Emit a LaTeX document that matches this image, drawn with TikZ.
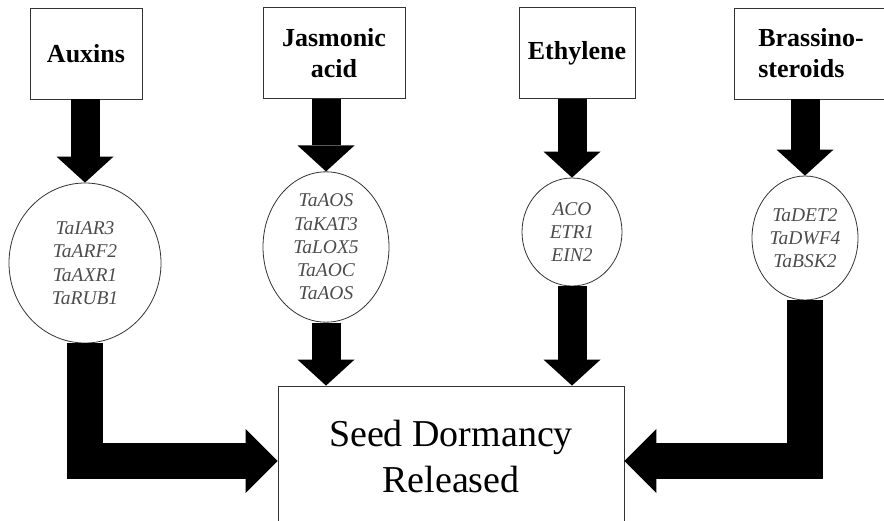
\documentclass[tikz,border=0pt]{standalone}
\usepackage{fontspec}
\setmainfont{Liberation Serif}
\usetikzlibrary{arrows.meta,shapes.geometric}

\begin{document}
\begin{tikzpicture}[
    x=1pt, y=-1pt, % pixel-like coordinates, y grows downwards
    line join=miter,
    hormone/.style={draw=black!80, line width=0.8pt, minimum height=91pt, inner sep=0pt,
        align=center, font=\fontsize{26}{31}\selectfont\bfseries},
    genes/.style={draw=black!80, line width=0.8pt, ellipse, inner sep=0pt,
        align=center, text=black!70, font=\fontsize{19.5}{23.3}\selectfont\itshape},
    outcome/.style={draw=black!80, line width=0.8pt, minimum width=346pt, minimum height=150pt,
        align=center, font=\fontsize{38}{46}\selectfont},
    block/.style={line width=29pt, -{Triangle[width=57pt, length=26pt, line width=0pt]}},
    bend block/.style={line width=36pt, -{Triangle[width=64pt, length=32pt, line width=0pt]}}
]

% --- 1. FRAME ---
\useasboundingbox (0,0) rectangle (884,520);

% --- 2. HORMONES ---
\node[hormone, minimum width=112pt] (auxins) at (86,53.5) {Auxins};
\node[hormone, minimum width=142pt] (jasmonic) at (334,53) {Jasmonic\\acid};
\node[hormone, minimum width=116pt] (ethylene) at (577,53) {Ethylene};
\node[hormone, minimum width=154pt, align=left] (brassino) at (811,53.5) {Brassino-\\steroids};

% --- 3. GENES ---
\node[genes, minimum width=152pt, minimum height=160pt] (auxgenes) at (85,263)
    {TaIAR3\\TaARF2\\TaAXR1\\TaRUB1};
\node[genes, minimum width=126pt, minimum height=138pt] (jagenes) at (326,247)
    {TaAOS\\TaKAT3\\TaLOX5\\TaAOC\\TaAOS};
\node[genes, minimum width=100pt, minimum height=108pt] (ethgenes) at (572,232)
    {ACO\\ETR1\\EIN2};
\node[genes, minimum width=106pt, minimum height=124pt] (brgenes) at (805,238)
    {TaDET2\\TaDWF4\\TaBSK2};

% --- 4. OUTCOME ---
% last empty line lifts the text a little inside the box
\node[outcome] (dormancy) at (451,461) {Seed Dormancy\\Released\\[-36pt]\mbox{}};

% --- 5. ARROWS ---
% Hormone -> genes
\draw[block] (auxgenes.north |- auxins.south) -- (auxgenes.north);
\draw[block] (jagenes.north |- jasmonic.south) -- (jagenes.north);
\draw[block] (ethgenes.north |- ethylene.south) -- (ethgenes.north);
\draw[block] (brgenes.north |- brassino.south) -- (brgenes.north);

% Genes -> dormancy
\draw[block] (jagenes.south) -- (jagenes.south |- dormancy.north);
\draw[block] (ethgenes.south) -- (ethgenes.south |- dormancy.north);
\draw[bend block] (auxgenes.south) |- (dormancy.west);
\draw[bend block] (brgenes.south) |- (dormancy.east);

\end{tikzpicture}
\end{document}
